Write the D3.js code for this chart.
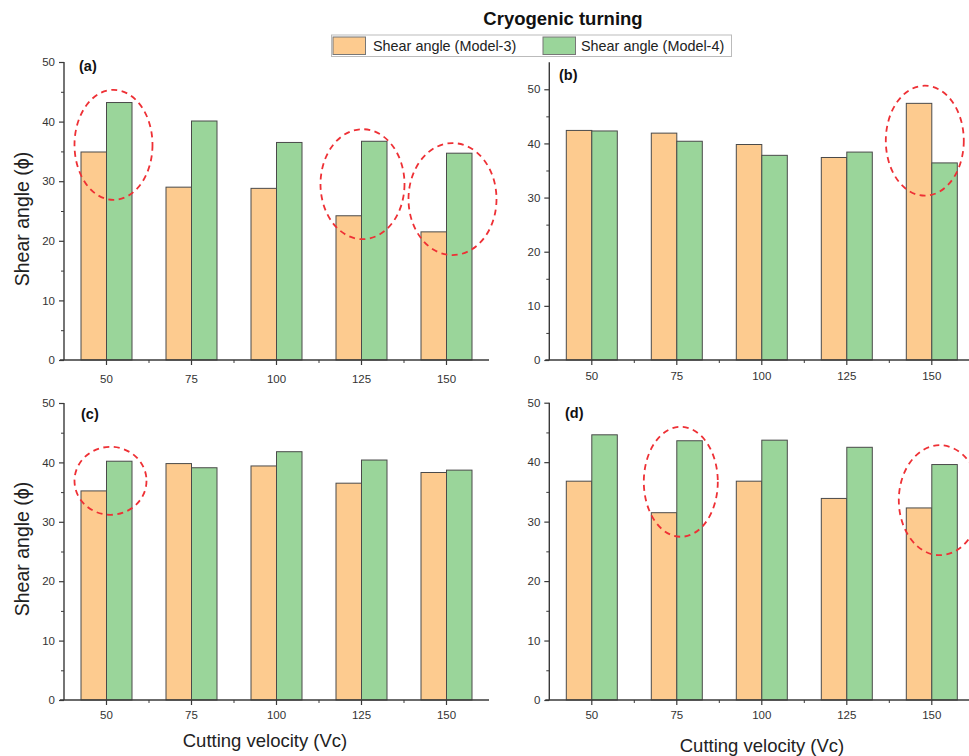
<!DOCTYPE html>
<html>
<head>
<meta charset="utf-8">
<script src="https://cdn.jsdelivr.net/npm/d3@7"></script>
<style>
  html, body { margin: 0; padding: 0; background: #fff; }
  svg { display: block; font-family: "Liberation Sans", Arial, sans-serif; }
</style>
</head>
<body>
<svg id="chart" width="969" height="756"></svg>
<script>
// Cutting velocities (m/min) shared by all four panels
const velocities = [50, 75, 100, 125, 150];
const seriesNames = ["Shear angle (Model-3)", "Shear angle (Model-4)"];

// Shear angle values per panel
const panelA_model3 = [34.9, 29.0, 28.8, 24.2, 21.5];
const panelA_model4 = [43.2, 40.1, 36.5, 36.7, 34.7];
const panelB_model3 = [42.4, 41.9, 39.8, 37.4, 47.4];
const panelB_model4 = [42.3, 40.4, 37.8, 38.4, 36.4];
const panelC_model3 = [35.2, 39.8, 39.4, 36.5, 38.3];
const panelC_model4 = [40.2, 39.1, 41.8, 40.4, 38.7];
const panelD_model3 = [36.8, 31.5, 36.8, 33.9, 32.3];
const panelD_model4 = [44.6, 43.6, 43.7, 42.5, 39.6];

// Y tick values
const yTicks = [0, 10, 20, 30, 40, 50];
const yMinorTicks = [5, 15, 25, 35, 45];

const colors = ["#FDCB8F", "#9AD59A"];
const barStroke = "#4a4a4a";
const axisColor = "#3a3a3a";

const svg = d3.select("#chart");

// Panel layout
const panels = [
  { tag: "(a)", m3: panelA_model3, m4: panelA_model4, left: 64, right: 489, top: 62, bottom: 360, yMax: 50,
    tagX: 79, tagY: 71, xLabY: 383, yLabel: true, yLabX: 29, yLabY: 219,
    rings: [{ at: 50, centre: 36.1, dx: 7, rx: 39, ry: 55 }, { at: 125, centre: 29.5, dx: 1, rx: 42, ry: 55 }, { at: 150, centre: 27.0, dx: 6, rx: 44, ry: 56 }] },
  { tag: "(b)", m3: panelB_model3, m4: panelB_model4, left: 549.3, right: 974.3, top: 62.2, bottom: 360, yMax: 55,
    tagX: 559, tagY: 80, xLabY: 380, yLabel: false,
    rings: [{ at: 150, centre: 40.5, dx: -7, rx: 39, ry: 55 }] },
  { tag: "(c)", m3: panelC_model3, m4: panelC_model4, left: 64, right: 489, top: 403, bottom: 700, yMax: 50,
    tagX: 81, tagY: 419, xLabY: 719, yLabel: true, yLabX: 29, yLabY: 549,
    xTitle: "Cutting velocity (Vc)", xTitleX: 265, xTitleY: 747,
    rings: [{ at: 50, centre: 36.9, dx: 4, rx: 36, ry: 34 }] },
  { tag: "(d)", m3: panelD_model3, m4: panelD_model4, left: 549.3, right: 974.3, top: 402.7, bottom: 700, yMax: 50,
    tagX: 565, tagY: 418, xLabY: 719, yLabel: false,
    xTitle: "Cutting velocity (Vc)", xTitleX: 762, xTitleY: 752,
    rings: [{ at: 75, centre: 36.7, dx: 4, rx: 37, ry: 55 }, { at: 150, centre: 33.6, dx: 8, rx: 41, ry: 55 }] }
];

panels.forEach(p => {
  const g = svg.append("g");
  const x = d3.scaleBand().domain(velocities).range([p.left, p.right]).paddingInner(0).paddingOuter(0);
  const y = d3.scaleLinear().domain([0, p.yMax]).range([p.bottom, p.top]);
  const groupW = x.bandwidth() * 0.6;
  const xs = d3.scaleBand().domain([0, 1]).range([0, groupW]);

  const rows = velocities.map((v, i) => ({ v, vals: [p.m3[i], p.m4[i]] }));

  // Bars
  const grp = g.selectAll("g.cat").data(rows).join("g")
    .attr("transform", d => `translate(${x(d.v) + (x.bandwidth() - groupW) / 2},0)`);
  grp.selectAll("rect").data(d => d.vals.map((val, k) => ({ val, k }))).join("rect")
    .attr("x", d => xs(d.k))
    .attr("width", xs.bandwidth())
    .attr("y", d => y(d.val))
    .attr("height", d => y(0) - y(d.val))
    .attr("fill", d => colors[d.k])
    .attr("stroke", barStroke)
    .attr("stroke-width", 1);

  // Y axis
  const yAxis = g.append("g").attr("transform", `translate(${p.left},0)`)
    .call(d3.axisLeft(y).tickValues(yTicks).tickSize(5).tickPadding(4).tickFormat(d3.format("d")));
  g.append("g").attr("transform", `translate(${p.left},0)`)
    .call(d3.axisLeft(y).tickValues(yMinorTicks).tickSize(3).tickFormat(""))
    .call(a => a.select(".domain").remove())
    .selectAll("line").attr("stroke", axisColor);
  yAxis.select(".domain").attr("stroke", axisColor).attr("stroke-width", 1.4)
    .attr("d", `M0,${p.top}V${p.bottom}`);

  // X axis
  const xAxis = g.append("g").attr("transform", `translate(0,${p.bottom})`)
    .call(d3.axisBottom(x).tickSize(5).tickPadding(5));
  xAxis.select(".domain").attr("stroke", axisColor).attr("stroke-width", 1.4)
    .attr("d", `M${p.left - 4},0H${p.right}`);
  // Minor ticks at band edges
  g.append("g").attr("transform", `translate(0,${p.bottom})`)
    .selectAll("line").data(velocities.slice(1)).join("line")
    .attr("x1", d => x(d)).attr("x2", d => x(d)).attr("y1", 0).attr("y2", 3)
    .attr("stroke", axisColor);

  [yAxis, xAxis].forEach(a => {
    a.selectAll(".tick line").attr("stroke", axisColor).attr("stroke-width", 1.2);
    a.selectAll(".tick text").attr("fill", "#333").attr("font-size", 11.5);
  });
  xAxis.selectAll(".tick text").attr("y", null).attr("dy", null)
    .attr("transform", `translate(0,${p.xLabY - p.bottom})`);

  // Panel tag
  g.append("text").attr("x", p.tagX).attr("y", p.tagY)
    .attr("font-weight", "bold").attr("font-size", 14.5).attr("fill", "#111").text(p.tag);

  // Highlight rings
  g.selectAll("ellipse.ring").data(p.rings).join("ellipse")
    .attr("cx", d => x(d.at) + x.bandwidth() / 2 + d.dx)
    .attr("cy", d => y(d.centre))
    .attr("rx", d => d.rx).attr("ry", d => d.ry)
    .attr("fill", "none").attr("stroke", "#EE3035").attr("stroke-width", 1.8)
    .attr("stroke-dasharray", "6,4.5");

  if (p.yLabel) {
    g.append("text").attr("transform", `translate(${p.yLabX},${p.yLabY}) rotate(-90)`)
      .attr("text-anchor", "middle").attr("font-size", 19.5).attr("fill", "#222")
      .text("Shear angle (\u03D5)");
  }
  if (p.xTitle) {
    g.append("text").attr("x", p.xTitleX).attr("y", p.xTitleY)
      .attr("text-anchor", "middle").attr("font-size", 18.5).attr("fill", "#222")
      .text(p.xTitle);
  }
});

// Title
svg.append("text").attr("x", 563).attr("y", 25).attr("text-anchor", "middle")
  .attr("font-weight", "bold").attr("font-size", 18.5).attr("fill", "#111").text("Cryogenic turning");

// Legend
const leg = svg.append("g");
leg.append("rect").attr("x", 331.5).attr("y", 35).attr("width", 400).attr("height", 21.5)
  .attr("fill", "#fff").attr("stroke", "#bbb").attr("stroke-width", 1);
const legItems = [{ x: 333, tx: 373 }, { x: 543, tx: 581 }];
seriesNames.forEach((name, k) => {
  leg.append("rect").attr("x", legItems[k].x).attr("y", 37).attr("width", 32.5).attr("height", 17.5)
    .attr("fill", colors[k]).attr("stroke", "#777").attr("stroke-width", 1);
  leg.append("text").attr("x", legItems[k].tx).attr("y", 51).attr("font-size", 14.4).attr("fill", "#222").text(name);
});
</script>
</body>
</html>
